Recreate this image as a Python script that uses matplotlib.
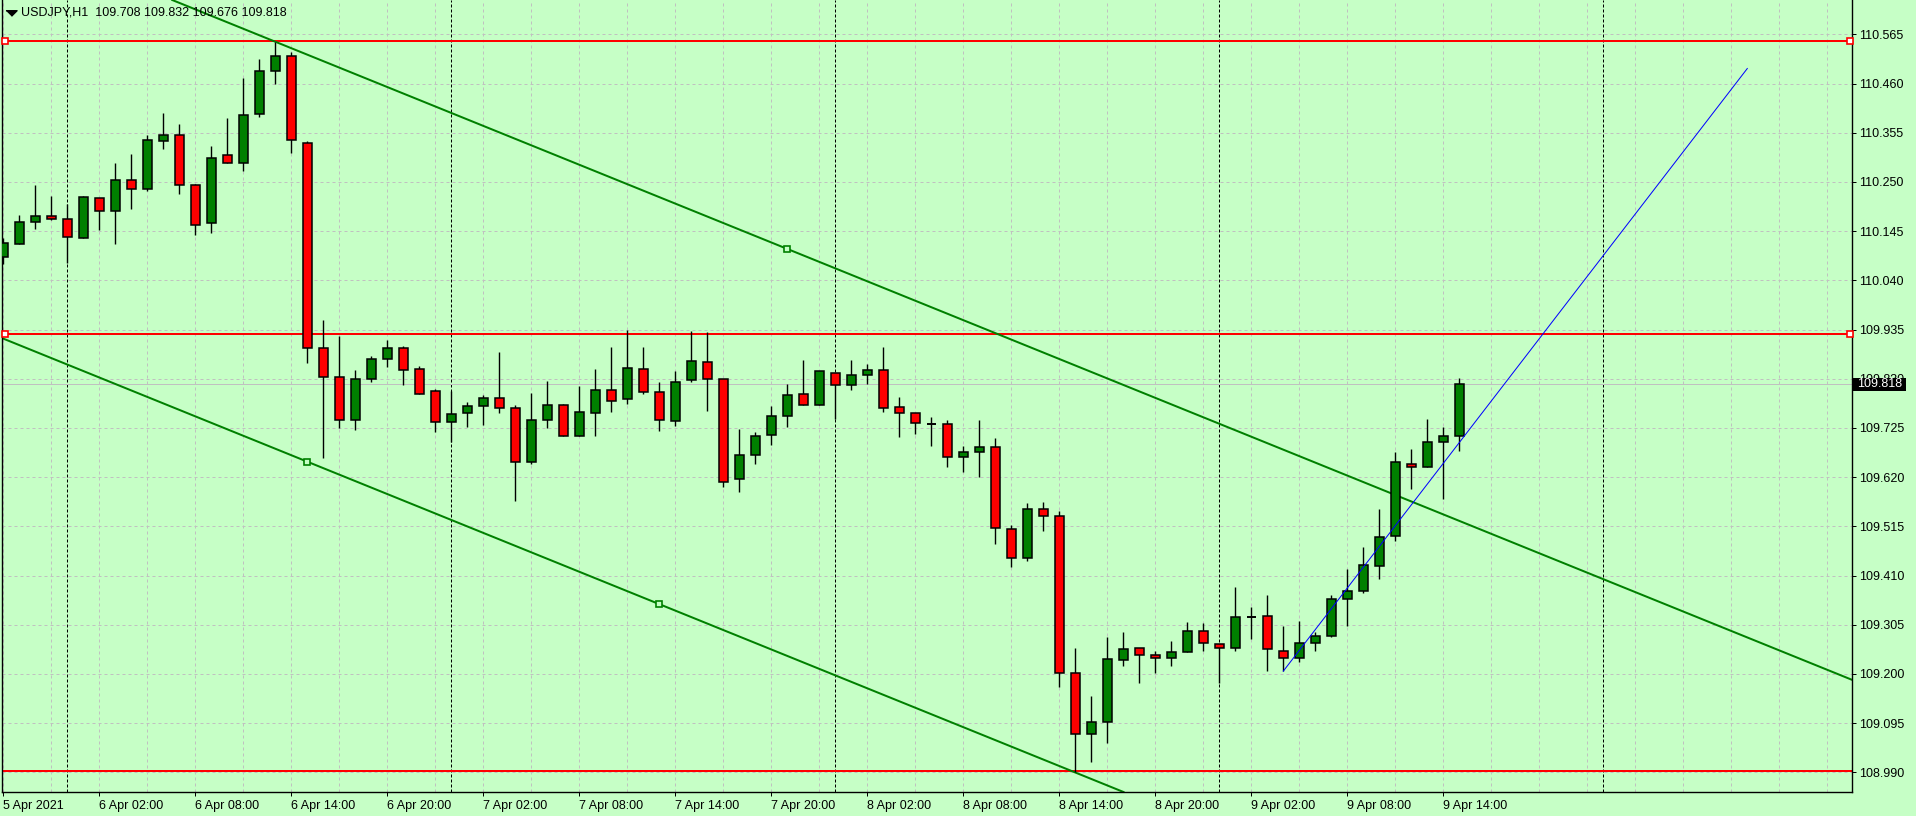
import matplotlib
matplotlib.use("Agg")
import matplotlib.pyplot as plt
import matplotlib.transforms as mtransforms
from matplotlib.patches import Rectangle
from matplotlib.lines import Line2D
import numpy as np
import pandas as pd

# USDJPY H1 candles, first visible bar 5 Apr 2021 20:00
first_bar = "2021-04-05 20:00"
opens = [110.089, 110.117, 110.164, 110.177, 110.170, 110.130, 110.215, 110.187, 110.255, 110.234,
         110.337, 110.351, 110.243, 110.162, 110.307, 110.290, 110.394, 110.486, 110.519, 110.334,
         109.895, 109.834, 109.743, 109.829, 109.873, 109.895, 109.850, 109.804, 109.738, 109.756,
         109.771, 109.788, 109.767, 109.653, 109.743, 109.773, 109.708, 109.756, 109.807, 109.786,
         109.850, 109.801, 109.739, 109.827, 109.865, 109.829, 109.615, 109.667, 109.709, 109.750,
         109.797, 109.775, 109.842, 109.816, 109.839, 109.848, 109.769, 109.756, 109.734, 109.733,
         109.662, 109.673, 109.684, 109.509, 109.447, 109.551, 109.538, 109.201, 109.071, 109.097,
         109.229, 109.255, 109.240, 109.233, 109.246, 109.291, 109.263, 109.255, 109.321, 109.323,
         109.250, 109.233, 109.267, 109.280, 109.361, 109.378, 109.430, 109.494, 109.649, 109.641,
         109.694, 109.708]
highs = [110.130, 110.179, 110.243, 110.220, 110.203, 110.220, 110.215, 110.290, 110.310, 110.351,
         110.396, 110.373, 110.245, 110.326, 110.386, 110.471, 110.512, 110.548, 110.527, 110.337,
         109.955, 109.921, 109.848, 109.878, 109.913, 109.900, 109.857, 109.809, 109.804, 109.780,
         109.795, 109.888, 109.775, 109.800, 109.826, 109.777, 109.814, 109.851, 109.897, 109.935,
         109.897, 109.824, 109.846, 109.931, 109.929, 109.829, 109.723, 109.716, 109.772, 109.818,
         109.870, 109.846, 109.842, 109.870, 109.861, 109.897, 109.790, 109.756, 109.748, 109.741,
         109.686, 109.742, 109.703, 109.517, 109.564, 109.568, 109.547, 109.255, 109.152, 109.278,
         109.289, 109.255, 109.250, 109.270, 109.310, 109.308, 109.263, 109.385, 109.342, 109.368,
         109.302, 109.312, 109.289, 109.368, 109.423, 109.470, 109.551, 109.673, 109.679, 109.744,
         109.728, 109.832]
lows = [110.074, 110.117, 110.150, 110.168, 110.078, 110.130, 110.148, 110.118, 110.193, 110.231,
        110.321, 110.225, 110.137, 110.142, 110.290, 110.274, 110.388, 110.460, 110.311, 109.863,
        109.660, 109.724, 109.720, 109.824, 109.856, 109.817, 109.797, 109.717, 109.694, 109.726,
        109.731, 109.757, 109.570, 109.648, 109.724, 109.708, 109.708, 109.708, 109.760, 109.777,
        109.798, 109.719, 109.730, 109.824, 109.762, 109.600, 109.589, 109.649, 109.689, 109.726,
        109.775, 109.773, 109.745, 109.807, 109.818, 109.758, 109.705, 109.713, 109.687, 109.642,
        109.630, 109.621, 109.478, 109.429, 109.442, 109.506, 109.173, 108.991, 109.013, 109.052,
        109.216, 109.181, 109.201, 109.216, 109.246, 109.248, 109.181, 109.250, 109.274, 109.207,
        109.206, 109.225, 109.248, 109.278, 109.302, 109.372, 109.402, 109.483, 109.594, 109.641,
        109.573, 109.676]
closes = [110.119, 110.164, 110.177, 110.170, 110.132, 110.217, 110.187, 110.255, 110.234, 110.339,
          110.351, 110.243, 110.159, 110.302, 110.290, 110.392, 110.486, 110.518, 110.339, 109.895,
          109.833, 109.743, 109.829, 109.873, 109.895, 109.849, 109.797, 109.737, 109.754, 109.771,
          109.788, 109.767, 109.653, 109.741, 109.773, 109.708, 109.758, 109.807, 109.782, 109.852,
          109.801, 109.741, 109.824, 109.867, 109.829, 109.610, 109.667, 109.707, 109.750, 109.795,
          109.775, 109.846, 109.816, 109.839, 109.848, 109.767, 109.756, 109.735, 109.734, 109.664,
          109.673, 109.684, 109.511, 109.447, 109.553, 109.538, 109.203, 109.071, 109.097, 109.231,
          109.253, 109.240, 109.235, 109.246, 109.291, 109.265, 109.255, 109.321, 109.321, 109.253,
          109.235, 109.267, 109.280, 109.359, 109.378, 109.432, 109.492, 109.652, 109.641, 109.694,
          109.707, 109.818]

# horizontal levels (first two are selected -> anchor squares)
levels = [110.551, 109.926, 108.993]
level_selected = [True, True, False]

# equidistant channel: two anchors on lower line, one on upper line
channel_bars = [19, 41]
channel_prices = [109.653, 109.349]
upper_bar = 49
upper_price = 110.107

# blue trendline segment
trend_bars = [80, 109]
trend_prices = [109.206, 110.492]

price_ticks = [110.565, 110.460, 110.355, 110.250, 110.145, 110.040, 109.935, 109.830,
               109.725, 109.620, 109.515, 109.410, 109.305, 109.200, 109.095, 108.990]

BG = "#C6FFC6"
BULL = "#008000"
BEAR = "#FF0000"
GRID = "#C0C0C0"
FONT = "Liberation Sans"
PX = 0.72  # one pixel in points at dpi 100


def main():
    n = len(closes)
    x = np.arange(n)
    o = np.array(opens)
    c = np.array(closes)
    times = pd.date_range(first_bar, periods=n, freq="h")
    start_hour = times[0].hour

    fig = plt.figure(figsize=(19.16, 8.16), dpi=100, facecolor=BG)
    ax = fig.add_axes([2.3 / 1916, 24 / 816, 1850 / 1916, 792 / 816])
    ax.set_facecolor(BG)
    ax.set_xlim(-0.0625, 115.5625)
    ax.set_ylim(108.9481, 110.6382)

    # grid
    for k in range(0, 116, 3):
        ax.axvline(k, color=GRID, lw=PX, ls=(0, (3, 3)), zorder=0)
    for p in price_ticks:
        ax.axhline(p, color=GRID, lw=PX, ls=(0, (3, 3)), zorder=0)

    # day separators
    for k in range(0, 116):
        if (start_hour + k) % 24 == 0:
            ax.axvline(k, color="black", lw=PX, ls=(0, (3, 2)), zorder=1)

    # bid line
    ax.axhline(closes[-1], color=GRID, lw=PX, zorder=1)

    # candles
    ax.vlines(x, lows, highs, color="black", lw=1.0, zorder=3)
    up = c > o
    dn = c < o
    flat = c == o
    w = 0.58
    ax.bar(x[up], (c - o)[up], bottom=o[up], width=w, color=BULL,
           edgecolor="black", linewidth=1.1, zorder=4)
    ax.bar(x[dn], (o - c)[dn], bottom=c[dn], width=w, color=BEAR,
           edgecolor="black", linewidth=1.1, zorder=4)
    ax.hlines(c[flat], x[flat] - w / 2, x[flat] + w / 2, color="black", lw=1.4, zorder=4)

    # horizontal levels
    blend = mtransforms.blended_transform_factory(ax.transAxes, ax.transData)
    for lvl, sel in zip(levels, level_selected):
        ax.axhline(lvl, color=BEAR, lw=2 * PX, zorder=2)
        if sel:
            ax.plot([0.0015, 0.9985], [lvl, lvl], "s", transform=blend, ms=4, mfc="white",
                    mec=BEAR, mew=1.2, clip_on=False, zorder=6)

    # channel
    slope = (channel_prices[1] - channel_prices[0]) / (channel_bars[1] - channel_bars[0])
    ax.axline((channel_bars[0], channel_prices[0]), (channel_bars[1], channel_prices[1]),
              color=BULL, lw=2 * PX, zorder=2)
    ax.axline((upper_bar, upper_price), slope=slope, color=BULL, lw=2 * PX, zorder=2)
    ax.plot(channel_bars + [upper_bar], channel_prices + [upper_price], "s", ms=4,
            mfc=BG, mec=BULL, mew=1.2, zorder=6)

    # blue trend
    ax.plot(trend_bars, trend_prices, color="#0000FF", lw=PX, zorder=5)

    # axes styling
    for side in ["left", "right", "bottom"]:
        ax.spines[side].set_color("black")
        ax.spines[side].set_linewidth(1.0)
    ax.spines["top"].set_visible(False)

    ax.yaxis.tick_right()
    ax.set_yticks(price_ticks)
    ax.set_yticklabels([f"{p:.3f}" for p in price_ticks], fontsize=9, family=FONT)
    ax.tick_params(axis="y", direction="out", length=2.9, width=PX, pad=2, left=False)

    xt = x[::6]
    xl = [times[0].strftime("%-d %b %Y")] + [t.strftime("%-d %b %H:%M") for t in times[6::6]]
    ax.set_xticks(xt)
    ax.set_xticklabels(xl, fontsize=9, family=FONT)
    for lab in ax.get_xticklabels():
        lab.set_horizontalalignment("left")
    ax.tick_params(axis="x", direction="out", length=2.9, width=PX, pad=2.5)

    # last price box on the scale
    ax.add_patch(Rectangle((1.0003, closes[-1] - 0.0142), 0.0287, 0.0284, transform=blend,
                           facecolor="black", edgecolor="none", clip_on=False, zorder=7))
    ax.text(1.0003 + 0.0287 / 2, closes[-1], f"{closes[-1]:.3f}", transform=blend,
            color="white", fontsize=9, family=FONT, ha="center", va="center",
            clip_on=False, zorder=8)

    # header
    fig.add_artist(Line2D([11 / 1916], [1 - 13 / 816], marker=[(-2, 1), (2, 1), (0, -1)],
                          ms=8, color="black", transform=fig.transFigure))
    fig.text(21 / 1916, 1 - 12.7 / 816,
             f"USDJPY,H1  {opens[-1]:.3f} {highs[-1]:.3f} {lows[-1]:.3f} {closes[-1]:.3f}",
             fontsize=9, family=FONT, va="center", ha="left")

    fig.savefig("out.png", dpi=100, facecolor=BG)
    plt.close(fig)


if __name__ == "__main__":
    main()
